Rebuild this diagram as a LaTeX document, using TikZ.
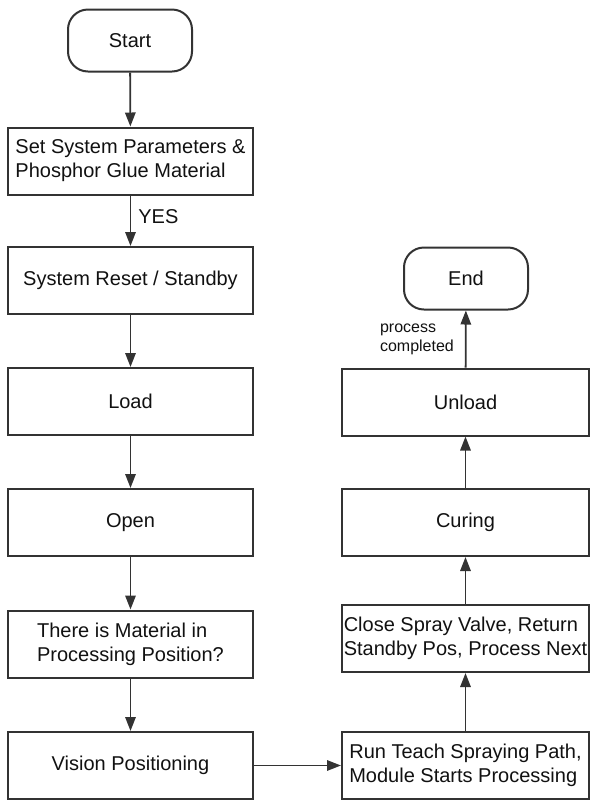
\documentclass[tikz,border=0pt]{standalone}
\usepackage{fontspec}
\setmainfont{Liberation Sans}
\usetikzlibrary{arrows.meta}
\definecolor{Ink}{HTML}{333333}
\definecolor{TextInk}{HTML}{111111}
\begin{document}
\begin{tikzpicture}[x=0.5pt,y=-0.5pt,
    procbox/.style={draw=Ink,line width=1pt,minimum width=122.5pt,minimum height=33.5pt,
      inner sep=0pt,align=left,text=TextInk,font=\fontsize{10}{12}\selectfont},
    rightbox/.style={procbox,minimum width=123.5pt},
    terminal/.style={draw=Ink,line width=1pt,rounded corners=10pt,minimum width=62pt,
      minimum height=31pt,inner sep=0pt,text=TextInk,font=\fontsize{10}{12}\selectfont},
    flow/.style={draw=Ink,line width=0.9pt,-{Triangle[length=7pt,width=5.2pt]}},
    lbl/.style={text=TextInk,inner sep=0pt}]
      \useasboundingbox (0,0) rectangle (600,810);

      \node[terminal] (start) at (130,40.5) {Start};
      \node[procbox] (setparam) at (130.5,161) {Set System Parameters \&\\Phosphor Glue Material};
      \node[procbox] (reset) at (130.5,280.5) {System Reset / Standby};
      \node[procbox] (load) at (130.5,401.5) {Load};
      \node[procbox] (open) at (130.5,522.5) {Open};
      \node[procbox] (material) at (130.5,644) {There is Material in\\Processing Position?};
      \node[procbox] (vision) at (130.5,765.5) {Vision Positioning};

      \node[rightbox] (runpath) at (465.5,765.5) {Run Teach Spraying Path,\\Module Starts Processing};
      \node[rightbox] (closevalve) at (465.5,638.5) {Close Spray Valve, Return\\Standby Pos, Process Next};
      \node[rightbox] (curing) at (465.5,522.5) {Curing};
      \node[rightbox] (unload) at (465.5,402) {Unload};
      \node[terminal] (end) at (466,278.5) {End};

      \draw[flow] (start) -- (setparam);
      \draw[flow] (setparam) -- node[lbl,anchor=west,xshift=3.5pt,yshift=2pt,
        font=\fontsize{10}{12}\selectfont] {YES} (reset);
      \draw[flow] (reset) -- (load);
      \draw[flow] (load) -- (open);
      \draw[flow] (open) -- (material);
      \draw[flow] (material) -- (vision);
      \draw[flow] (vision) -- (runpath);
      \draw[flow] (runpath) -- (closevalve);
      \draw[flow] (closevalve) -- (curing);
      \draw[flow] (curing) -- (unload);
      \draw[flow] (unload) -- node[lbl,anchor=east,xshift=-5.5pt,align=left,
        font=\fontsize{8}{9.5}\selectfont] {process\\completed} (end);
    \end{tikzpicture}
\end{document}
